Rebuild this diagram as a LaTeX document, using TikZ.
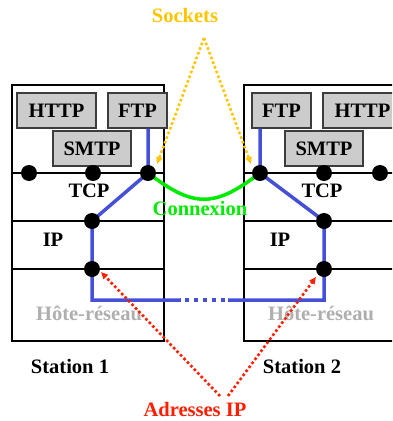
\documentclass[tikz,border=0pt]{standalone}
\usepackage{fontspec}
\setmainfont{Liberation Serif}
\usetikzlibrary{arrows.meta}
\definecolor{sockcol}{RGB}{255,196,0}
\definecolor{conncol}{RGB}{0,235,0}
\definecolor{ipcol}{RGB}{255,30,0}
\definecolor{linkcol}{RGB}{70,80,215}
\definecolor{boxfill}{RGB}{204,204,204}
\definecolor{boxedge}{RGB}{60,60,60}
\definecolor{hostcol}{RGB}{175,175,175}
\tikzset{
  lbl/.style={font=\fontsize{20.5}{24}\selectfont\bfseries, inner sep=0pt},
  appbox/.style={draw=boxedge, fill=boxfill, line width=1.2pt, minimum height=35pt, inner sep=0pt, lbl},
  station/.style={draw=black, line width=1.2pt},
  sep/.style={draw=black, line width=1.2pt},
  dot/.style={circle, fill=black, minimum size=16pt, inner sep=0pt},
  link/.style={draw=linkcol, line width=3.5pt},
  ptr/.style={line width=2.6pt, dash pattern=on 2.6pt off 2.4pt, -{Triangle[length=7pt,width=6pt]}},
}
\begin{document}
\begin{tikzpicture}[x=1pt,y=-1pt]
\useasboundingbox (0,0) rectangle (392,421);
\clip (0,0) rectangle (392,421);
% station frames
\draw[station] (12,85) rectangle (164,341);
\draw[station] (244,85) rectangle (430,341);
\draw[sep] (12,173) -- (164,173) (12,221) -- (164,221) (12,269) -- (164,269);
\draw[sep] (244,173) -- (430,173) (244,221) -- (430,221) (244,269) -- (430,269);
% layer labels
\node[lbl] (tcp1) at (89,191) {TCP};
\node[lbl] (ip1) at (53,240) {IP};
\node[lbl, text=hostcol] (hr1) at (89,313) {Hôte-réseau};
\node[lbl] (st1) at (70,366) {Station 1};
\node[lbl] (tcp2) at (322,191) {TCP};
\node[lbl] (ip2) at (280,240) {IP};
\node[lbl, text=hostcol] (hr2) at (321,313) {Hôte-réseau};
\node[lbl] (st2) at (302,366) {Station 2};
% application boxes
\node[appbox, minimum width=79pt] (http1) at (56.5,110.5) {HTTP};
\node[appbox, minimum width=59pt] (ftp1) at (137.5,110.5) {FTP};
\node[appbox, minimum width=78pt] (smtp1) at (92,148.5) {SMTP};
\node[appbox, minimum width=59pt] (ftp2) at (281.5,110.5) {FTP};
\node[appbox, minimum width=79pt] (http2) at (362.5,110.5) {HTTP};
\node[appbox, minimum width=78pt] (smtp2) at (324,148.5) {SMTP};
% anchor points
\coordinate (s1) at (148,173);
\coordinate (s2) at (260,173);
\coordinate (i1) at (92,221);
\coordinate (i2) at (324,221);
\coordinate (h1) at (92,269);
\coordinate (h2) at (324,269);
\coordinate (c1) at (92,300);
\coordinate (c2) at (324,300);
\coordinate (g1) at (180,300);
\coordinate (g2) at (228,300);
% blue path
\draw[link] (ftp1.south -| s1) -- (s1) -- (i1) -- (h1) -- (c1) -- (g1);
\draw[link, line width=3.5pt, dash pattern=on 4.6pt off 4.4pt, dash phase=-4.5pt] (g1) -- (g2);
\draw[link] (ftp2.south -| s2) -- (s2) -- (i2) -- (h2) -- (c2) -- (g2);
% connection
\draw[conncol, line width=3.5pt] (s1) .. controls (194,208) and (214,208) .. (s2);
\node[lbl, text=conncol] (conn) at (200,208) {Connexion};
% dots
\node[dot] (d1) at (29,173) {};
\node[dot] (d2) at (93,173) {};
\node[dot] (d3) at (s1) {};
\node[dot] (d4) at (i1) {};
\node[dot] (d5) at (h1) {};
\node[dot] (e1) at (s2) {};
\node[dot] (e2) at (324,173) {};
\node[dot] (e3) at (380,173) {};
\node[dot] (e4) at (i2) {};
\node[dot] (e5) at (h2) {};
% sockets
\node[lbl, text=sockcol] (sock) at (185,15) {Sockets};
\coordinate (sa) at (204,38);
\coordinate (sl) at (157,164);
\coordinate (sr) at (251,164);
\draw[ptr, sockcol] (sa) -- (sl);
\draw[ptr, sockcol] (sa) -- (sr);
% IP addresses
\node[lbl, text=ipcol] (addr) at (195,409) {Adresses IP};
\coordinate (al) at (220,396);
\coordinate (ar) at (228,396);
\coordinate (tl) at (101,272);
\coordinate (tr) at (316,277);
\draw[ptr, ipcol] (al) -- (tl);
\draw[ptr, ipcol] (ar) -- (tr);
\end{tikzpicture}
\end{document}
